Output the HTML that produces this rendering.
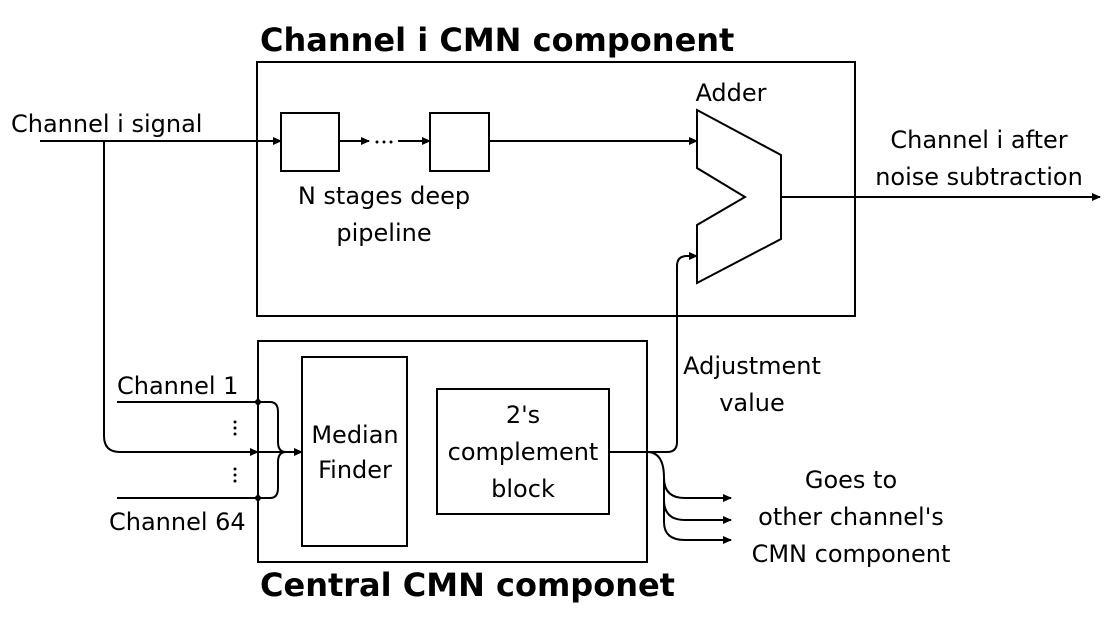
<!DOCTYPE html>
<html><head><meta charset="utf-8"><style>
body{margin:0;background:#fff}
text{font-family:"DejaVu Sans","Liberation Sans",sans-serif;fill:#000}
</style></head><body>
<svg width="1114" height="614" viewBox="0 0 1114 614" xmlns="http://www.w3.org/2000/svg">
<defs><marker id="a" markerWidth="9" markerHeight="8" refX="8" refY="4" orient="auto" markerUnits="userSpaceOnUse"><path d="M0,0 L9,4 L0,8 Z"/></marker></defs>
<g fill="none" stroke="#000" stroke-width="2">
<rect x="257" y="62" width="598" height="254"/>
<rect x="258" y="341" width="389" height="221"/>
<rect x="302" y="357" width="105" height="189"/>
<rect x="437" y="389" width="172" height="125"/>
<rect x="281" y="113" width="58" height="58"/>
<rect x="430" y="113" width="59" height="58"/>
<polygon points="697,110 781,155 781,239 697,283 697,225 745,197 697,168"/>
<line x1="40" y1="141" x2="281" y2="141" marker-end="url(#a)"/>
<line x1="339" y1="141" x2="369" y2="141" marker-end="url(#a)"/>
<line x1="398" y1="141" x2="430" y2="141" marker-end="url(#a)"/>
<line x1="489" y1="141" x2="697" y2="141" marker-end="url(#a)"/>
<line x1="781" y1="197" x2="1100" y2="197" marker-end="url(#a)"/>
<path d="M104,141 V436 Q104,452 120,452 H258" marker-end="url(#a)"/>
<line x1="258" y1="452" x2="302" y2="452" marker-end="url(#a)"/>
<line x1="117" y1="402" x2="258" y2="402"/>
<line x1="117" y1="498" x2="258" y2="498"/>
<path d="M258,402 H270 Q278,402 278,412 V442 Q278,452 286,452"/>
<path d="M258,498 H270 Q278,498 278,488 V462 Q278,452 286,452"/>
<path d="M609,452 H667 Q677,452 677,442 V266 Q677,256 687,256 H697" marker-end="url(#a)"/>
<path d="M647,452 Q664,452 664,478 Q664,498 685,498 H731" marker-end="url(#a)"/>
<path d="M664,478 V500 Q664,520 685,520 H731" marker-end="url(#a)"/>
<path d="M664,500 V522 Q664,540 685,540 H731" marker-end="url(#a)"/>
</g>
<g fill="#000"><circle cx="258" cy="402" r="3"/><circle cx="258" cy="498" r="3"/>
<circle cx="235" cy="422" r="1.5"/><circle cx="235" cy="428" r="1.5"/><circle cx="235" cy="434" r="1.5"/>
<circle cx="235" cy="469" r="1.5"/><circle cx="235" cy="475" r="1.5"/><circle cx="235" cy="481" r="1.5"/>
<circle cx="377" cy="142" r="1.5"/><circle cx="384" cy="142" r="1.5"/><circle cx="391" cy="142" r="1.5"/></g>
<text x="260" y="51" font-size="32" font-weight="bold">Channel i CMN component</text>
<text x="260" y="596" font-size="32" font-weight="bold">Central CMN componet</text>
<g font-size="24">
<text x="11" y="132">Channel i signal</text>
<text x="384" y="204" text-anchor="middle">N stages deep</text>
<text x="384" y="241" text-anchor="middle">pipeline</text>
<text x="731" y="101" text-anchor="middle">Adder</text>
<text x="979" y="148" text-anchor="middle">Channel i after</text>
<text x="979" y="185" text-anchor="middle">noise subtraction</text>
<text x="117" y="394">Channel 1</text>
<text x="109" y="530">Channel 64</text>
<text x="355" y="443" text-anchor="middle">Median</text>
<text x="355" y="478" text-anchor="middle">Finder</text>
<text x="523" y="423" text-anchor="middle">2's</text>
<text x="523" y="460" text-anchor="middle">complement</text>
<text x="523" y="497" text-anchor="middle">block</text>
<text x="752" y="374" text-anchor="middle">Adjustment</text>
<text x="752" y="411" text-anchor="middle">value</text>
<text x="851" y="488" text-anchor="middle">Goes to</text>
<text x="851" y="525" text-anchor="middle">other channel's</text>
<text x="851" y="562" text-anchor="middle">CMN component</text>
</g>
</svg>
</body></html>
